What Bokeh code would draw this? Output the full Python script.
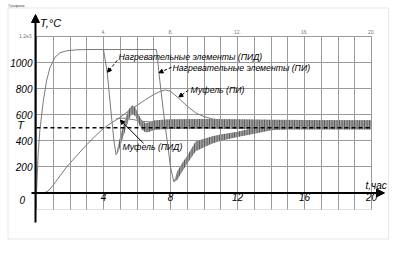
from bokeh.plotting import figure
from bokeh.models import Range1d, FixedTicker, Label, Arrow, NormalHead, BoxAnnotation, LinearAxis, Grid
from bokeh.embed import file_html
from bokeh.resources import INLINE

# ---- data (time in hours, temperature in °C) ----
heat_rise_t = [0, 0.1, 0.2, 0.4, 0.6, 0.8, 1.1, 1.4, 1.8, 2.4, 3.0, 4.0]
heat_rise_v = [0, 300, 480, 700, 860, 960, 1040, 1075, 1090, 1098, 1100, 1100]

heat_pid_t = [4.0, 4.05, 4.22, 4.42, 4.62, 4.75]
heat_pid_v = [1100, 1060, 928, 660, 404, 290]

heat_pi_t = [4.0, 7.15, 7.22, 7.3, 7.6, 8.0, 8.2]
heat_pi_v = [1100, 1100, 1050, 930, 600, 200, 84]

pid_band_t = [4.75, 4.9, 5.1, 5.3, 5.5, 5.7, 5.9, 6.1, 6.3, 6.5, 6.7, 7.0, 7.5, 8.0, 10.0, 12.0, 14.0, 16.0, 18.0, 20.0]
pid_band_lo = [290, 320, 400, 480, 560, 610, 590, 530, 485, 465, 468, 482, 488, 490, 492, 490, 488, 486, 486, 486]
pid_band_hi = [290, 380, 480, 570, 640, 672, 655, 600, 555, 535, 540, 556, 562, 565, 568, 565, 562, 560, 558, 558]

pi_band_t = [8.2, 8.4, 8.7, 9.0, 9.5, 10.0, 10.5, 11.0, 12.0, 13.0, 14.0, 15.0, 16.0, 18.0, 20.0]
pi_band_lo = [84, 100, 165, 225, 320, 350, 380, 400, 430, 455, 480, 488, 490, 490, 490]
pi_band_hi = [84, 165, 230, 285, 395, 415, 435, 448, 470, 500, 545, 550, 555, 556, 556]

muf_pi_t = [0.45, 0.7, 1.0, 1.4, 1.8, 2.5, 3.0, 3.5, 4.0, 4.5, 5.0, 5.5, 6.0, 6.5, 7.0, 7.4, 7.7, 8.0,
            8.5, 9.0, 9.5, 10.0, 10.5, 11.0, 12.0, 13.0, 14.0, 16.0, 18.0, 20.0]
muf_pi_v = [0, 15, 60, 130, 200, 300, 370, 435, 495, 540, 580, 630, 672, 715, 755, 780, 790, 780,
            725, 665, 615, 585, 568, 558, 548, 542, 538, 536, 535, 535]

muf_pid_t = [4.75, 5.0, 5.3, 5.8, 6.3, 7.0, 8.0, 10.0, 14.0, 20.0]
muf_pid_v = [568, 574, 572, 562, 550, 542, 538, 535, 533, 532]

setpoint = 500
x_ticks = [4, 8, 12, 16, 20]
y_ticks = [200, 400, 600, 800, 1000]
x_grid = list(range(0, 21))
y_grid = [0, 200, 400, 600, 800, 1000, 1200]
top_labels = {4: "4.", 8: "8.", 12: "12.", 16: "16.", 20: "20."}

# ---- pixel <-> data mapping of the grid area (frame covers whole canvas) ----
W, H = 399, 256
L, R, T, B = 36, 371, 36, 209
X0, X1 = 0, 20
Y0, Y1 = -127, 1200


def tx(px):
    return X0 + (px - L) * (X1 - X0) / (R - L)


def vy(py):
    return Y1 - (py - T) * (Y1 - Y0) / (B - T)


p = figure(width=W, height=H, output_backend="svg", toolbar_location=None,
           x_range=Range1d(tx(0), tx(W)), y_range=Range1d(vy(H), vy(0)),
           min_border_left=0, min_border_right=0, min_border_top=0, min_border_bottom=0)
p.background_fill_color = "white"
p.border_fill_color = "white"
p.outline_line_color = None

GRID = "#9a9a9a"
if "cross_bounds" in Grid.properties():
    p.xgrid.ticker = FixedTicker(ticks=x_grid)
    p.ygrid.ticker = FixedTicker(ticks=y_grid)
    p.xgrid.bounds = (X0, X1)
    p.xgrid.cross_bounds = (Y0, Y1)
    p.ygrid.bounds = (Y0, Y1)
    p.ygrid.cross_bounds = (X0, X1)
    for g in (p.xgrid, p.ygrid):
        g.grid_line_color = GRID
        g.grid_line_width = 1
else:
    p.xgrid.grid_line_color = None
    p.ygrid.grid_line_color = None
    p.segment(x0=x_grid, y0=[Y0] * len(x_grid), x1=x_grid, y1=[Y1] * len(x_grid), line_color=GRID)
    p.segment(x0=[X0] * len(y_grid), y0=y_grid, x1=[X1] * len(y_grid), y1=y_grid, line_color=GRID)
p.add_layout(BoxAnnotation(left=X0, right=X1, bottom=Y0, top=Y1, fill_color=None,
                           line_color=GRID, line_width=1))

FONT = "Liberation Sans"
xa = p.xaxis[0]
xa.fixed_location = 0
xa.ticker = FixedTicker(ticks=x_ticks)
ya = p.yaxis[0]
ya.fixed_location = 0
ya.ticker = FixedTicker(ticks=y_ticks)
for ax in (xa, ya):
    ax.axis_line_color = None
    ax.major_tick_line_color = None
    ax.minor_tick_line_color = None
    ax.major_tick_out = 0
    ax.major_tick_in = 0
    ax.minor_tick_out = 0
    ax.minor_tick_in = 0
    ax.major_label_text_font = FONT
    ax.major_label_text_font_style = "italic"
    ax.major_label_text_font_size = "10px"
    ax.major_label_text_color = "black"
xa.major_label_standoff = 0
ya.major_label_standoff = 4

top = LinearAxis(ticker=FixedTicker(ticks=x_ticks), major_label_overrides=top_labels, fixed_location=Y1,
                 axis_line_color=None, major_tick_line_color=None, minor_tick_line_color=None,
                 major_tick_out=0, major_tick_in=0, minor_tick_out=0, minor_tick_in=0,
                 major_label_text_font=FONT, major_label_text_font_size="5px",
                 major_label_text_color="#777777", major_label_standoff=3)
p.add_layout(top, "above")

# ---- curves ----
CURVE = "#7a7a7a"
p.line(heat_rise_t, heat_rise_v, line_color=CURVE, line_width=1)
p.line(heat_pid_t, heat_pid_v, line_color=CURVE, line_width=1)
p.line(heat_pi_t, heat_pi_v, line_color=CURVE, line_width=1)
p.line(muf_pi_t, muf_pi_v, line_color=CURVE, line_width=1)
p.line(muf_pid_t, muf_pid_v, line_color=CURVE, line_width=1)
for bt, blo, bhi in ((pi_band_t, pi_band_lo, pi_band_hi), (pid_band_t, pid_band_lo, pid_band_hi)):
    p.varea(x=bt, y1=blo, y2=bhi, fill_color="#9c9c9c", fill_alpha=1,
            hatch_pattern="vertical_line", hatch_color="#505050", hatch_scale=2.5, hatch_weight=1)

# setpoint T (dashed), across the grid area
p.segment(x0=[X0], y0=[setpoint], x1=[X1], y1=[setpoint], line_color="black",
          line_dash="4 3", line_width=1.3)

# ---- axes with arrows ----
p.add_layout(Arrow(x_start=tx(35), y_start=vy(222), x_end=tx(35), y_end=vy(14), line_width=2, line_color="black",
                   end=NormalHead(size=8, fill_color="black", line_color="black")))
p.add_layout(Arrow(x_start=tx(31), y_start=0, x_end=tx(384), y_end=0, line_width=2, line_color="black",
                   end=NormalHead(size=8, fill_color="black", line_color="black")))

# ---- outer frame ----
p.add_layout(BoxAnnotation(left=tx(7.5), right=tx(388), top=vy(7.5), bottom=vy(238.5),
                           fill_color=None, line_color="#b0b0b0", line_width=1))


def lab(x, y, text, size="8.7px", align="left", color="black", style="italic"):
    p.add_layout(Label(x=x, y=y, text=text, text_font=FONT, text_font_style=style,
                       text_font_size=size, text_align=align, text_baseline="middle",
                       text_color=color))


lab(tx(8), vy(4.5), "Графики", size="4px", style="normal", color="#555555")
lab(tx(39.5), vy(22.5), "T,°C", size="11px")
lab(tx(365), vy(185), "t,час", size="10px")
lab(tx(24.5), vy(199), "0", size="10px", align="right")
lab(tx(23.5), vy(124), "T", size="11px", align="right")
lab(tx(31), vy(35), "1.2e3", size="5px", align="right", color="#777777", style="normal")

lab(4.9, 1040, "Нагревательные элементы (ПИД)")
lab(8.12, 956, "Нагревательные элементы (ПИ)")
lab(9.2, 788, "Муфель (ПИ)")
lab(5.13, 353, "Муфель (ПИД)")


def leader(x0, y0, x1, y1, dash="solid"):
    p.add_layout(Arrow(x_start=x0, y_start=y0, x_end=x1, y_end=y1, line_width=1, line_color="black",
                       line_dash=dash,
                       end=NormalHead(size=4, fill_color="black", line_color="black")))


leader(4.82, 1017, 4.24, 926, "3 2")
leader(8.06, 964, 7.31, 922, "3 2")
leader(9.07, 788, 8.5, 736, "3 2")
leader(6.39, 381, 5.01, 558)

open("out.html", "w").write(file_html(p, INLINE))
